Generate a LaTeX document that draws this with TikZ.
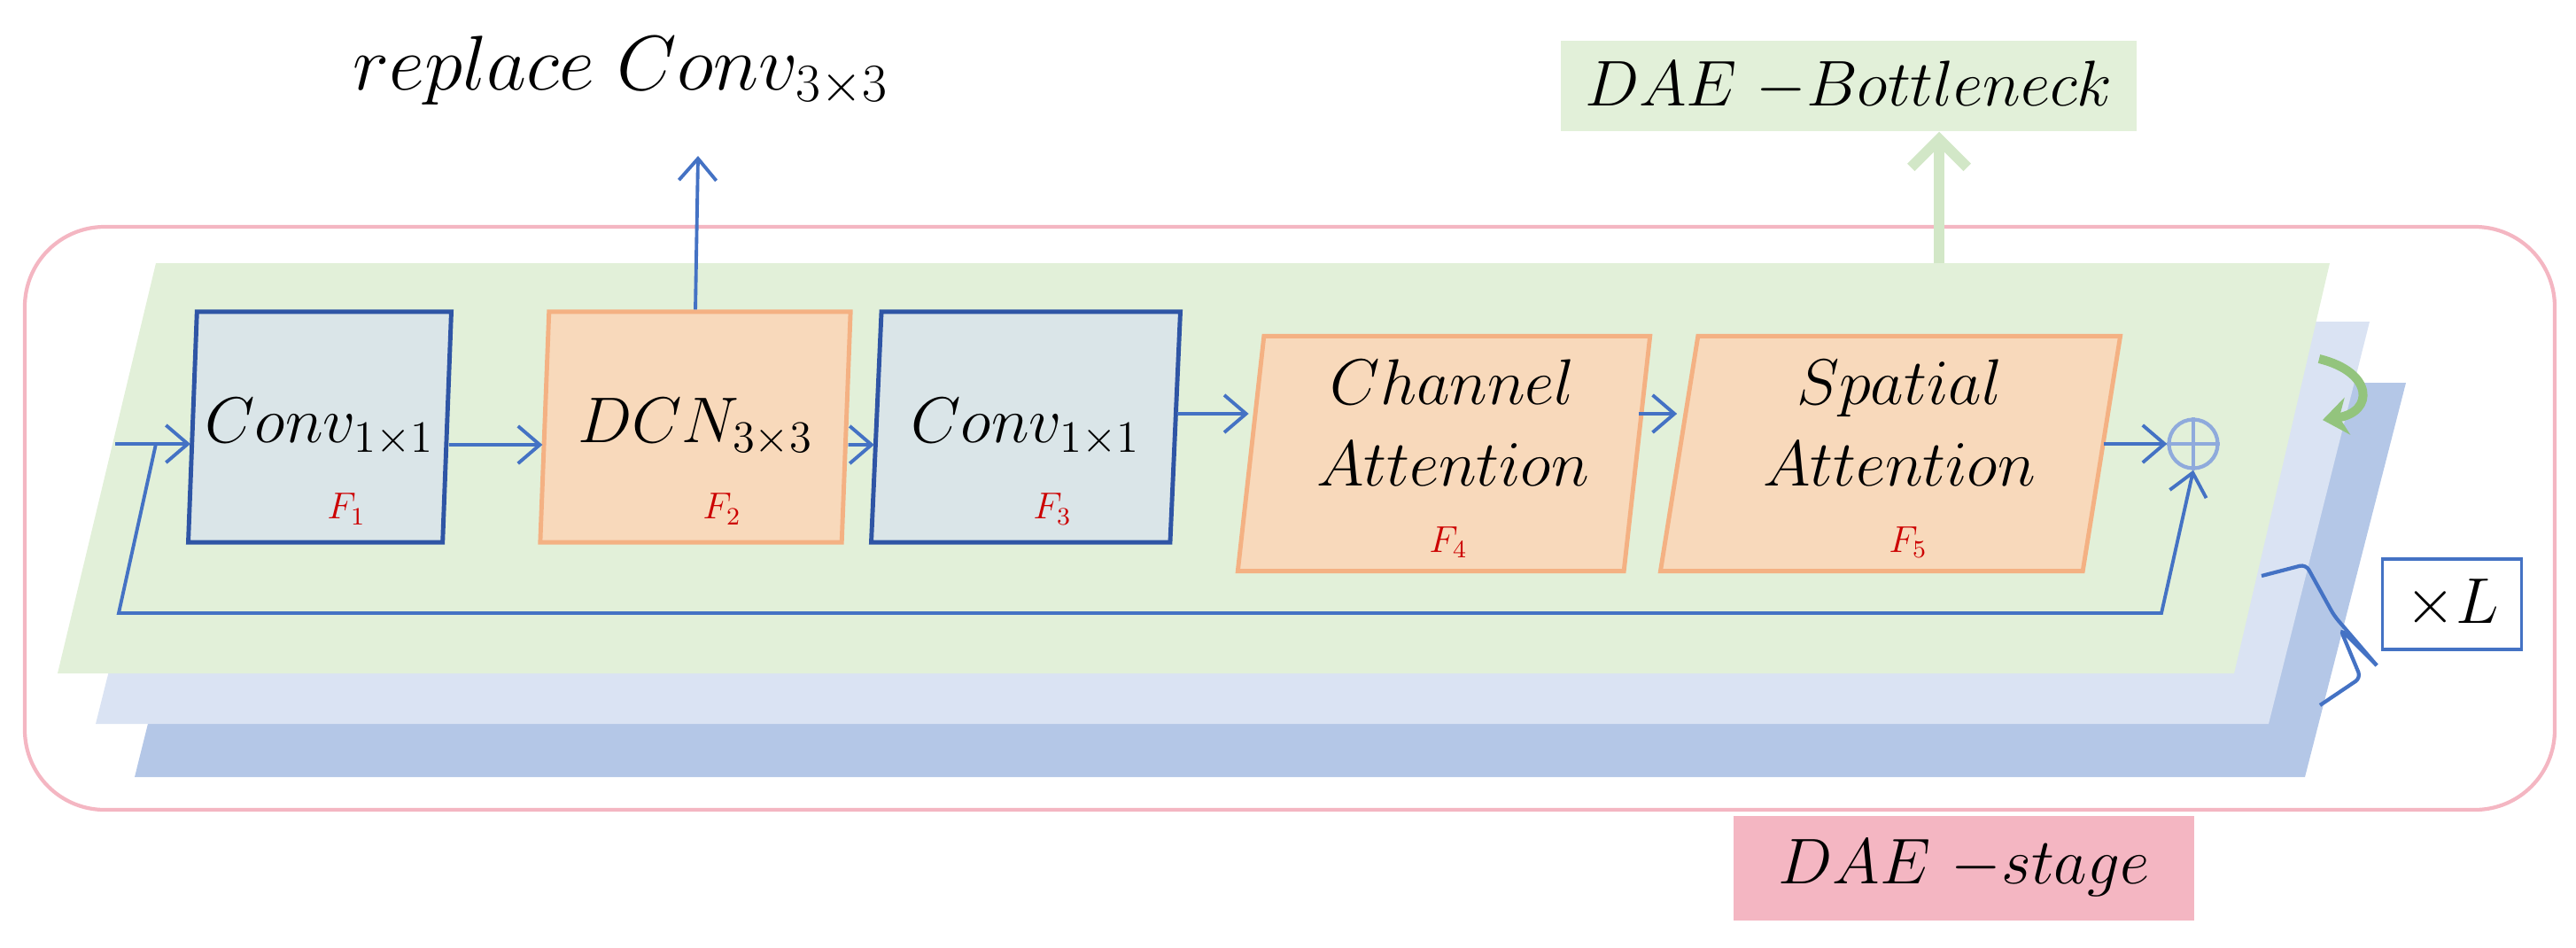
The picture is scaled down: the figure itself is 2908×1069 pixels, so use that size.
\documentclass[tikz,border=0pt]{standalone}
\usepackage{amsmath}
\usetikzlibrary{shapes.geometric, arrows.meta, positioning}

\definecolor{layergreen}{HTML}{E2F0D9}
\definecolor{layerlight}{HTML}{DAE3F3}
\definecolor{layerdark}{HTML}{B4C7E7}
\definecolor{lineblue}{HTML}{4472C4}
\definecolor{boxblue}{HTML}{2F55A5}
\definecolor{boxgray}{HTML}{DAE5E8}
\definecolor{boxorange}{HTML}{F4B183}
\definecolor{fillorange}{HTML}{F8D9BB}
\definecolor{stagepink}{HTML}{F4B6C2}
\definecolor{plusblue}{HTML}{8FAADC}
\definecolor{turngreen}{HTML}{93C47D}

\begin{document}
\begin{tikzpicture}[
    x=0.01cm, y=-0.01cm,
    block/.style={trapezium, trapezium stretches=true, minimum height=2.6cm, inner sep=0pt, line width=1.4pt, font=\fontsize{20}{26}\selectfont},
    convbox/.style={block, draw=boxblue, fill=boxgray, trapezium left angle=82, trapezium right angle=98},
    dcnbox/.style={block, draw=boxorange, fill=fillorange, trapezium left angle=83, trapezium right angle=97},
    attbox/.style={block, draw=boxorange, fill=fillorange, minimum height=2.65cm, align=center},
    atttext/.style={align=center, font=\fontsize{20}{26}\selectfont},
    flab/.style={text=red!80!black, font=\fontsize{12}{14}\selectfont},
    flow/.style={draw=lineblue, line width=1.1pt, -{Straight Barb[length=7pt, width=12pt, line width=1.1pt]}}
]
   \useasboundingbox (0,0) rectangle (2908,1069);

   % stage frame and stacked layers
   \draw[stagepink, line width=1.2pt, rounded corners=0.9cm] (28,256) rectangle (2884,914);
   \fill[layerdark]  (263,432) -- (2716,432) -- (2602,877) -- (152,877) -- cycle;
   \fill[layerlight] (222,363) -- (2675,363) -- (2561,817) -- (108,817) -- cycle;
   \fill[layergreen] (176,297) -- (2630,297) -- (2522,760) -- (65,760) -- cycle;

   % blocks
   \node[convbox, minimum width=2.97cm] (c1) at (361,482) {$Conv_{1\times1}$};
   \node[dcnbox,  minimum width=3.53cm] (d2) at (785,482) {$DCN_{3\times3}$};
   \node[convbox, minimum width=3.49cm] (c3) at (1158,482) {$Conv_{1\times1}$};
   \node[attbox, minimum width=4.69cm, trapezium left angle=81, trapezium right angle=99] (ca) at (1630,512) {\phantom{$Attention$}\\\phantom{$Attention$}};
   \node[attbox, minimum width=5.19cm, trapezium left angle=78, trapezium right angle=102] (sa) at (2134,512) {\phantom{$Attention$}\\\phantom{$Attention$}};
   \node[atttext] at ([xshift=0.1cm, yshift=0.35cm]ca.center) {$Channel$\\$Attention$};
   \node[atttext] at ([xshift=0.1cm, yshift=0.35cm]sa.center) {$Spatial$\\$Attention$};
   \node[circle, draw=plusblue, line width=1.2pt, minimum size=0.55cm, inner sep=0pt] (sum) at (2476,501) {};
   \draw[plusblue, line width=1.2pt] (sum.north) -- (sum.south) (sum.west) -- (sum.east);

   % block tags
   \node[flab] at ([xshift=0.3cm, yshift=0.4cm]c1.south) {$F_1$};
   \node[flab] at ([xshift=0.3cm, yshift=0.4cm]d2.south) {$F_2$};
   \node[flab] at ([xshift=0.3cm, yshift=0.4cm]c3.south) {$F_3$};
   \node[flab] at ([xshift=0.05cm, yshift=0.35cm]ca.south) {$F_4$};
   \node[flab] at ([xshift=0.2cm, yshift=0.35cm]sa.south) {$F_5$};

   % main path
   \coordinate (in) at (130,501);
   \coordinate (split) at (176,501);
   \coordinate (s1) at (134,692);
   \coordinate (s2) at (2440,692);
   \draw[flow] (in) -- (c1.west |- in);
   \draw[flow] ([yshift=-0.2cm]c1.east) -- ([yshift=-0.2cm]d2.west);
   \draw[flow] ([yshift=-0.2cm]d2.east) -- ([yshift=-0.2cm]c3.west);
   \draw[flow] ([yshift=0.15cm]c3.east) -- ([yshift=0.15cm]c3.east -| ca.west);
   \draw[flow] ([yshift=0.45cm]ca.east) -- ([yshift=0.45cm]ca.east -| sa.west);
   \draw[flow] (sa.east |- sum) -- (sum.west);
   \draw[flow] (split) -- (s1) -- (s2) -- (sum.south);

   % outputs above
   \node[font=\fontsize{24}{28}\selectfont] (rep) at (701,80) {$replace\ Conv_{3\times3}$};
   \draw[flow] (d2.north) -- (788,176);
   \node[fill=layergreen, minimum width=6.49cm, minimum height=1.02cm, font=\fontsize{20}{24}\selectfont] (bott) at (2087,97) {$DAE\ {-}Bottleneck$};
   \coordinate (gtop) at (2189,297);
   \draw[layergreen!80!turngreen, line width=0.12cm, -{Straight Barb[length=9pt, width=18pt, line width=0.12cm]}] (gtop) -- (gtop |- bott.south);

   % stage tag, repeat count
   \node[fill=stagepink, minimum width=5.19cm, minimum height=1.17cm, font=\fontsize{22}{26}\selectfont] (stage) at (2217,980) {$DAE\ {-}stage$};
   \node[draw=lineblue, line width=1pt, fill=white, minimum width=1.57cm, minimum height=1.02cm, font=\fontsize{20}{24}\selectfont] (cnt) at (2768,682) {$\times L$};
   \coordinate (bt) at (2683,751);
   \draw[lineblue, line width=1.2pt, rounded corners=2pt] (2553,650) -- (2603,637) -- (2635,695) -- (bt);
   \draw[lineblue, line width=1.2pt, rounded corners=2pt] (bt) -- (2642,710) -- (2665,765) -- (2619,796);

   % turn arrow between layers
   \draw[turngreen, line width=0.1cm, -{Stealth[length=8pt, width=12pt]}] (2618,405) .. controls (2680,420) and (2680,465) .. (2622,474);
\end{tikzpicture}
\end{document}
